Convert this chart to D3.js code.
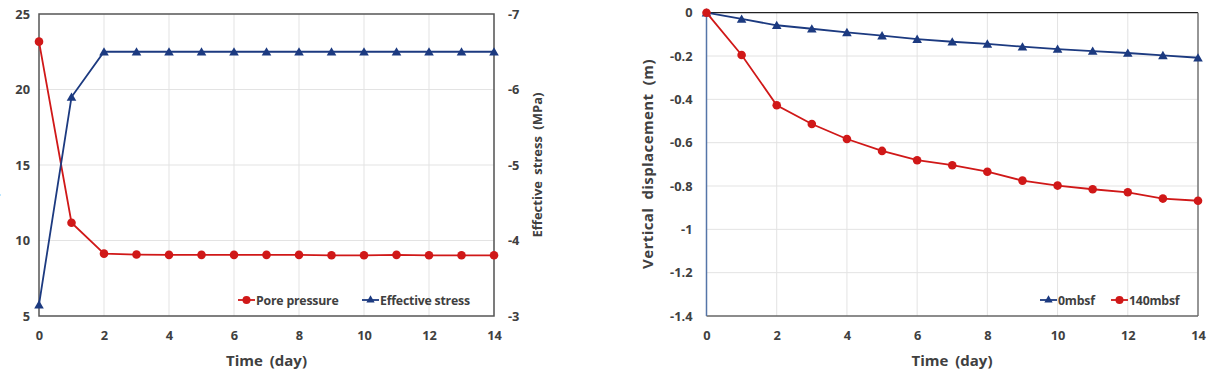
<!DOCTYPE html>
<html>
<head>
<meta charset="utf-8">
<script src="https://cdn.jsdelivr.net/npm/d3@7"></script>
<style>
  body { margin: 0; background: #fff; }
  text { font-family: "Open Sans", Lato, sans-serif; }
</style>
</head>
<body>
<div id="chart"></div>
<script>
// data
var days = [0, 1, 2, 3, 4, 5, 6, 7, 8, 9, 10, 11, 12, 13, 14];
var porePressure = [23.17, 11.18, 9.13, 9.07, 9.05, 9.05, 9.05, 9.05, 9.05, 9.02, 9.02, 9.05, 9.02, 9.02, 9.02];
var effectiveStress = [-3.15, -5.9, -6.5, -6.5, -6.5, -6.5, -6.5, -6.5, -6.5, -6.5, -6.5, -6.5, -6.5, -6.5, -6.5];
var disp0 = [0, -0.029, -0.058, -0.074, -0.091, -0.106, -0.122, -0.134, -0.144, -0.157, -0.168, -0.177, -0.186, -0.197, -0.208];
var disp140 = [0, -0.195, -0.427, -0.514, -0.583, -0.638, -0.681, -0.704, -0.734, -0.775, -0.798, -0.815, -0.829, -0.858, -0.868];
var xTicks = [0, 2, 4, 6, 8, 10, 12, 14];
var leftTicks = [5, 10, 15, 20, 25];
var stressTicks = [-7, -6, -5, -4, -3];
var dispTicks = [0, -0.2, -0.4, -0.6, -0.8, -1, -1.2, -1.4];

var red = "#d01818", blue = "#1c3a80", tickColor = "#404040";

var svg = d3.select("#chart").append("svg")
    .attr("width", 1214)
    .attr("height", 371);

var tri = d3.symbol().type(d3.symbolTriangle).size(40);
var fmt = function(d) { return String(+d.toFixed(1)); };

// draw one series (line + markers)
function drawSeries(g, x, y, vals, color, marker) {
    var pts = days.map(function(d, i) { return [d, vals[i]]; });
    g.append("path")
        .attr("d", d3.line().x(function(p) { return x(p[0]); }).y(function(p) { return y(p[1]); })(pts))
        .attr("fill", "none")
        .attr("stroke", color)
        .attr("stroke-width", 1.8);
    if (marker == "circle") {
        g.selectAll(null).data(pts).enter().append("circle")
            .attr("cx", function(p) { return x(p[0]); })
            .attr("cy", function(p) { return y(p[1]); })
            .attr("r", 4.3)
            .attr("fill", color);
    } else {
        g.selectAll(null).data(pts).enter().append("path")
            .attr("d", tri)
            .attr("transform", function(p) { return "translate(" + x(p[0]) + "," + (y(p[1]) + 1) + ")"; })
            .attr("fill", color);
    }
}

function grid(g, x, y, yt, x0, x1, y0, y1) {
    g.selectAll(null).data(xTicks.slice(1)).enter().append("line")
        .attr("x1", function(d) { return x(d); }).attr("x2", function(d) { return x(d); })
        .attr("y1", y0).attr("y2", y1)
        .attr("stroke", "#e3e3e3").attr("stroke-width", 1);
    g.selectAll(null).data(yt).enter().append("line")
        .attr("x1", x0).attr("x2", x1)
        .attr("y1", function(d) { return y(d); }).attr("y2", function(d) { return y(d); })
        .attr("stroke", "#e3e3e3").attr("stroke-width", 1);
}

function legendItem(g, lx, ly, color, marker, label) {
    g.append("line").attr("x1", lx).attr("x2", lx + 17).attr("y1", ly).attr("y2", ly)
        .attr("stroke", color).attr("stroke-width", 1.8);
    if (marker == "circle") {
        g.append("circle").attr("cx", lx + 8.5).attr("cy", ly).attr("r", 4).attr("fill", color);
    } else {
        g.append("path").attr("d", d3.symbol().type(d3.symbolTriangle).size(30))
            .attr("transform", "translate(" + (lx + 8.5) + "," + (ly) + ")").attr("fill", color);
    }
    g.append("text").attr("x", lx + 18).attr("y", ly + 4.5)
        .attr("font-size", 12.3).attr("font-weight", "bold").attr("fill", tickColor)
        .attr("letter-spacing", -0.2)
        .text(label);
}

// ---------- left chart ----------
var L = { left: 39, right: 494, top: 14, bottom: 316 };
var xL = d3.scaleLinear().domain([0, 14]).range([L.left, L.right]);
var yL = d3.scaleLinear().domain([5, 25]).range([L.bottom, L.top]);
var yS = d3.scaleLinear().domain([-3, -7]).range([L.bottom, L.top]);

var gL = svg.append("g");
grid(gL, xL, yL, leftTicks.slice(1, -1), L.left, L.right, L.top, L.bottom);

gL.append("rect")
    .attr("x", L.left).attr("y", L.top)
    .attr("width", L.right - L.left).attr("height", L.bottom - L.top)
    .attr("fill", "none").attr("stroke", "#555").attr("stroke-width", 1.5);

var axL = gL.append("g").attr("transform", "translate(" + L.left + ",0)")
    .call(d3.axisLeft(yL).tickValues(leftTicks).tickSize(0).tickPadding(9).tickFormat(fmt));
var axS = gL.append("g").attr("transform", "translate(" + L.right + ",0)")
    .call(d3.axisRight(yS).tickValues(stressTicks).tickSize(0).tickPadding(14).tickFormat(fmt));
var axXL = gL.append("g").attr("transform", "translate(0," + L.bottom + ")")
    .call(d3.axisBottom(xL).tickValues(xTicks).tickSize(0).tickPadding(15).tickFormat(fmt));

drawSeries(gL, xL, yL, porePressure, red, "circle");
drawSeries(gL, xL, yS, effectiveStress, blue, "triangle");

gL.append("text")
    .attr("x", (L.left + L.right) / 2).attr("y", 366)
    .attr("text-anchor", "middle").attr("font-size", 15).attr("font-weight", "bold").attr("fill", tickColor)
    .attr("word-spacing", 3)
    .text("Time (day)");
gL.append("text")
    .attr("transform", "translate(542,165) rotate(-90)")
    .attr("text-anchor", "middle").attr("font-size", 13).attr("font-weight", "bold").attr("fill", tickColor)
    .attr("word-spacing", 3)
    .text("Effective stress (MPa)");
// left axis title: mostly clipped by the picture edge, as in the source
gL.append("text")
    .attr("transform", "translate(-3,165) rotate(-90)")
    .attr("text-anchor", "middle").attr("font-size", 13).attr("font-weight", "bold").attr("fill", tickColor)
    .attr("word-spacing", 3)
    .text("Pore pressure (MPa)");

legendItem(gL, 238, 300, red, "circle", "Pore pressure");
legendItem(gL, 362, 300, blue, "triangle", "Effective stress");

// ---------- right chart ----------
var R = { left: 706.5, right: 1198, top: 12.7, bottom: 316 };
var xR = d3.scaleLinear().domain([0, 14]).range([R.left, R.right]);
var yR = d3.scaleLinear().domain([-1.4, 0]).range([R.bottom, R.top]);

var gR = svg.append("g");
grid(gR, xR, yR, dispTicks.slice(1, -1), R.left, R.right, R.top, R.bottom);

gR.append("line").attr("x1", R.left).attr("x2", R.right).attr("y1", R.top).attr("y2", R.top)
    .attr("stroke", "#222").attr("stroke-width", 1.3);
gR.append("line").attr("x1", R.right).attr("x2", R.right).attr("y1", R.top).attr("y2", R.bottom)
    .attr("stroke", "#777").attr("stroke-width", 1.5);
gR.append("line").attr("x1", R.left).attr("x2", R.right).attr("y1", R.bottom).attr("y2", R.bottom)
    .attr("stroke", "#666").attr("stroke-width", 1.5);
gR.append("line").attr("x1", R.left).attr("x2", R.left).attr("y1", R.top).attr("y2", R.bottom)
    .attr("stroke", "#5575a8").attr("stroke-width", 1.5);

var axR = gR.append("g").attr("transform", "translate(" + R.left + ",0)")
    .call(d3.axisLeft(yR).tickValues(dispTicks).tickSize(0).tickPadding(14).tickFormat(fmt));
var axXR = gR.append("g").attr("transform", "translate(0," + R.bottom + ")")
    .call(d3.axisBottom(xR).tickValues(xTicks).tickSize(0).tickPadding(15).tickFormat(fmt));

drawSeries(gR, xR, yR, disp0, blue, "triangle");
drawSeries(gR, xR, yR, disp140, red, "circle");

gR.append("text")
    .attr("x", 952).attr("y", 366)
    .attr("text-anchor", "middle").attr("font-size", 15).attr("font-weight", "bold").attr("fill", tickColor)
    .attr("word-spacing", 3)
    .text("Time (day)");
gR.append("text")
    .attr("transform", "translate(653,164) rotate(-90)")
    .attr("text-anchor", "middle").attr("font-size", 15).attr("font-weight", "bold").attr("fill", tickColor)
    .attr("letter-spacing", 0.4).attr("word-spacing", 4)
    .text("Vertical displacement (m)");

legendItem(gR, 1040, 300, blue, "triangle", "0mbsf");
legendItem(gR, 1111, 300, red, "circle", "140mbsf");

// axis styling
svg.selectAll(".domain").remove();
svg.selectAll(".tick text")
    .attr("font-size", 12.8).attr("font-weight", "bold").attr("fill", tickColor)
    .style("font-family", "'Open Sans', Lato, sans-serif");
</script>
</body>
</html>
